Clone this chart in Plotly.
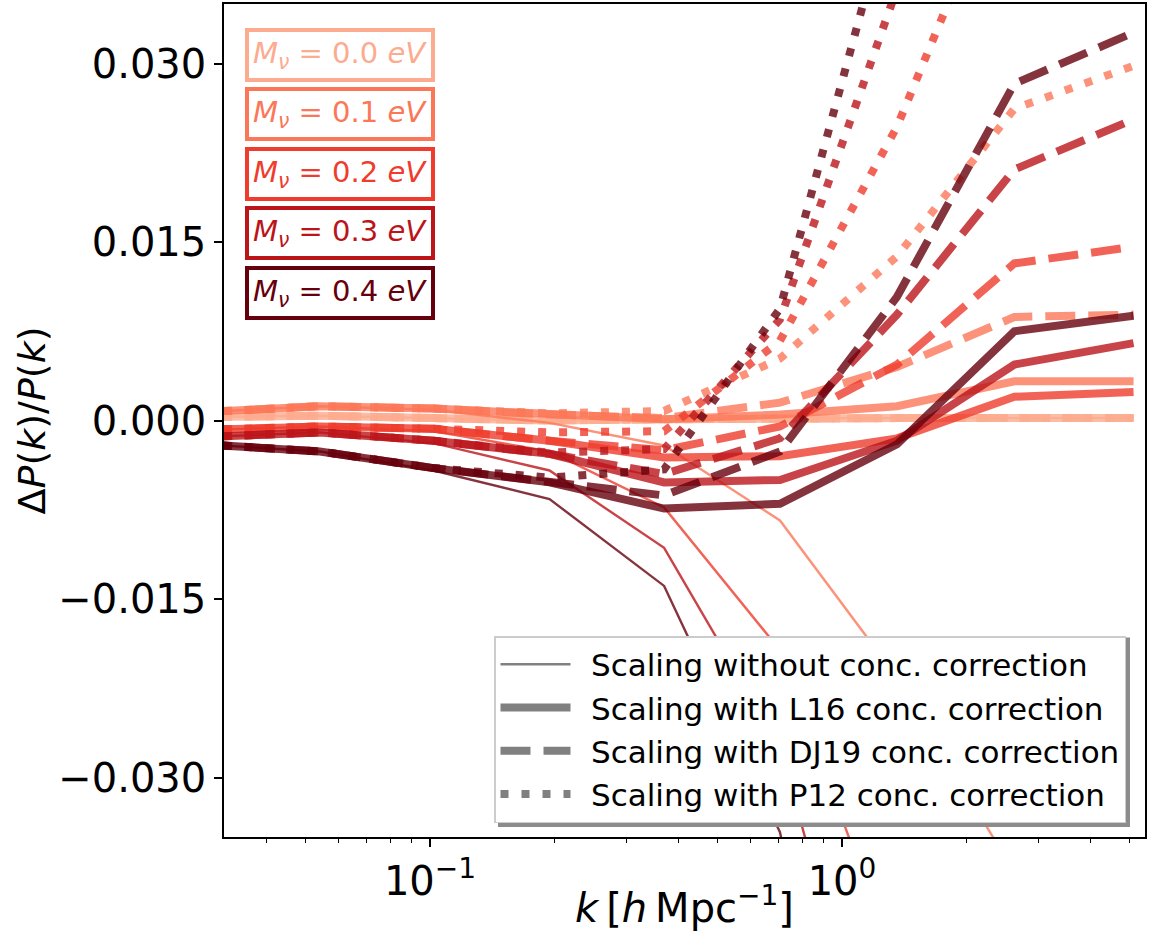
import plotly.graph_objects as go

# ---------------- data ----------------
k_vals = [0.028, 0.054, 0.102, 0.195, 0.37, 0.707, 1.36, 2.62, 5.1]

mass_labels = ["0.0", "0.1", "0.2", "0.3", "0.4"]
mass_colors = ["#fcab8f", "#fb7757", "#ef3c2d", "#bb151a", "#67000d"]
mass_colors_rgba = ["rgba(252,171,143,0.8)", "rgba(251,119,87,0.8)", "rgba(239,60,45,0.8)",
                    "rgba(187,21,26,0.8)", "rgba(103,0,13,0.8)"]

# M_nu = 0.0 eV : all prescriptions coincide
all_m00 = [0.0003, 0.0004, 0.0002, 0.0000, 0.0001, 0.0002, 0.0002, 0.0002, 0.0002]

nocorr_m01 = [0.0007, 0.0012, 0.0009, -0.0002, -0.0021, -0.0084, -0.0216, -0.038, -0.060]
L16_m01 = [0.0007, 0.0012, 0.0010, 0.0005, 0.0001, 0.0005, 0.0012, 0.0033, 0.0033]
DJ19_m01 = [0.0007, 0.0012, 0.0010, 0.0005, 0.0002, 0.0015, 0.0045, 0.0087, 0.0089]
P12_m01 = [0.0007, 0.0012, 0.0010, 0.0006, 0.0008, 0.0052, 0.0138, 0.0262, 0.0298]

nocorr_m02 = [-0.0008, -0.0005, -0.0009, -0.0026, -0.0073, -0.0193, -0.046, -0.080, -0.120]
L16_m02 = [-0.0008, -0.0005, -0.0007, -0.0017, -0.0031, -0.0030, -0.0015, 0.0020, 0.0024]
DJ19_m02 = [-0.0008, -0.0005, -0.0007, -0.0017, -0.0025, -0.0005, 0.0047, 0.0132, 0.0146]
P12_m02 = [-0.0008, -0.0005, -0.0007, -0.0010, -0.0009, 0.0067, 0.0247, 0.0485, 0.0550]

nocorr_m03 = [-0.0014, -0.0010, -0.0019, -0.0042, -0.0107, -0.0274, -0.063, -0.110, -0.160]
L16_m03 = [-0.0014, -0.0010, -0.0017, -0.0028, -0.0052, -0.0050, -0.0017, 0.0047, 0.0065]
DJ19_m03 = [-0.0014, -0.0010, -0.0017, -0.0028, -0.0045, -0.0015, 0.0089, 0.0211, 0.0253]
P12_m03 = [-0.0014, -0.0010, -0.0017, -0.0027, -0.0024, 0.0085, 0.0363, 0.0700, 0.0800]

nocorr_m04 = [-0.0020, -0.0026, -0.0042, -0.0066, -0.0139, -0.0346, -0.080, -0.140, -0.200]
L16_m04 = [-0.0020, -0.0026, -0.0040, -0.0052, -0.0074, -0.0070, -0.0020, 0.0075, 0.0088]
DJ19_m04 = [-0.0020, -0.0026, -0.0040, -0.0052, -0.0063, -0.0026, 0.0104, 0.0283, 0.0326]
P12_m04 = [-0.0020, -0.0026, -0.0040, -0.0048, -0.0041, 0.0094, 0.0454, 0.0900, 0.1000]

nocorr = [all_m00, nocorr_m01, nocorr_m02, nocorr_m03, nocorr_m04]
L16 = [all_m00, L16_m01, L16_m02, L16_m03, L16_m04]
DJ19 = [all_m00, DJ19_m01, DJ19_m02, DJ19_m03, DJ19_m04]
P12 = [all_m00, P12_m01, P12_m02, P12_m03, P12_m04]

y_tickvals = [-0.030, -0.015, 0.0, 0.015, 0.030]
y_ticktext = ["\u22120.030", "\u22120.015", "0.000", "0.015", "0.030"]
x_tickvals = [0.1, 1.0]
x_ticktext = ["10<sup>\u22121</sup>", "10<sup>0</sup>"]
x_minor = [0.04, 0.05, 0.06, 0.07, 0.08, 0.09, 0.2, 0.3, 0.4, 0.5, 0.6, 0.7, 0.8, 0.9,
           2, 3, 4, 5]

legend_names = ["Scaling without conc. correction", "Scaling with L16 conc. correction",
                "Scaling with DJ19 conc. correction", "Scaling with P12 conc. correction"]

# ---------------- styles ----------------
W_THIN = 2.4
W_THICK = 8
styles = [
    (nocorr, W_THIN, "solid"),
    (L16, W_THICK, "solid"),
    (DJ19, W_THICK, "30px,13px"),
    (P12, W_THICK, "8px,13px"),
]

fig = go.Figure()

for i in range(len(mass_labels)):
    for series, w, dash in styles:
        fig.add_trace(go.Scatter(
            x=k_vals, y=series[i], mode="lines",
            line=dict(color=mass_colors_rgba[i], width=w, dash=dash),
            showlegend=False, hoverinfo="skip"))

# legend entries (gray proxies)
for j, (series, w, dash) in enumerate(styles):
    fig.add_trace(go.Scatter(
        x=[None], y=[None], mode="lines", name="\u2002" + legend_names[j],
        line=dict(color="#808080", width=w, dash=dash),
        legendgroup="g%d" % j, showlegend=True))

# ---------------- layout ----------------
L, R, T, B = 224, 11, 2, 110
W, H = 1156, 947
pw, ph = W - L - R, H - T - B

def px_x(p):
    return (p - L) / pw

def px_y(p):
    return (H - B - p) / ph

annotations = []
box_centers = [53, 112.5, 172.5, 232, 292]
for i, lab in enumerate(mass_labels):
    annotations.append(dict(
        xref="paper", yref="paper", x=px_x(245), y=px_y(box_centers[i]),
        xanchor="left", yanchor="middle", showarrow=False,
        text="<i>M</i><sub><i>\u03bd</i></sub> = %s <i>eV</i>" % lab,
        font=dict(family="DejaVu Sans", size=29, color=mass_colors[i]),
        bgcolor="white", bordercolor=mass_colors[i], borderwidth=4, borderpad=4))

# axis titles
annotations.append(dict(
    xref="paper", yref="paper", x=0.5, y=px_y(905), xanchor="center", yanchor="middle",
    showarrow=False,
    text="<i>k</i>\u2009[<i>h</i>\u2009Mpc<sup>\u22121</sup>]",
    font=dict(family="DejaVu Sans", size=40, color="black")))
annotations.append(dict(
    xref="paper", yref="paper", x=px_x(31), y=0.5, xanchor="center", yanchor="middle",
    showarrow=False, textangle=-90,
    text="\u0394<i>P</i>(<i>k</i>)/<i>P</i>(<i>k</i>)",
    font=dict(family="DejaVu Sans", size=38, color="black")))

# legend drop shadow
shapes = [dict(type="rect", xref="paper", yref="paper",
               x0=px_x(498), x1=px_x(1130), y0=px_y(827), y1=px_y(637),
               fillcolor="#8c8c8c", line=dict(width=0), layer="above")]

fig.update_layout(
    width=W, height=H,
    margin=dict(l=L, r=R, t=T, b=B, pad=0),
    paper_bgcolor="white", plot_bgcolor="white",
    font=dict(family="DejaVu Sans", size=40, color="black"),
    showlegend=True,
    legend=dict(x=px_x(494), y=px_y(823), xanchor="left", yanchor="bottom",
                bgcolor="white", bordercolor="#cccccc", borderwidth=1.5,
                font=dict(family="DejaVu Sans", size=31, color="black"),
                itemwidth=70, tracegroupgap=9, traceorder="normal"),
    annotations=annotations,
    shapes=shapes,
)

fig.update_xaxes(
    type="log", range=[-1.5, 0.7354],
    showline=True, linecolor="black", linewidth=1.5, mirror=True,
    showgrid=False, zeroline=False,
    tickmode="array", tickvals=x_tickvals, ticktext=x_ticktext,
    ticks="outside", ticklen=8, tickwidth=1.5, tickcolor="black",
    tickfont=dict(family="DejaVu Sans", size=40, color="black"),
    minor=dict(tickmode="array", tickvals=x_minor, ticks="outside", ticklen=4,
               tickwidth=1.2, tickcolor="black", showgrid=False),
)
fig.update_yaxes(
    range=[-0.035, 0.035],
    showline=True, linecolor="black", linewidth=1.5, mirror=True,
    showgrid=False, zeroline=False,
    tickmode="array", tickvals=y_tickvals, ticktext=y_ticktext,
    ticks="outside", ticklen=8, tickwidth=1.5, tickcolor="black",
    tickfont=dict(family="DejaVu Sans", size=40, color="black"),
)

fig.write_html("out.html")
